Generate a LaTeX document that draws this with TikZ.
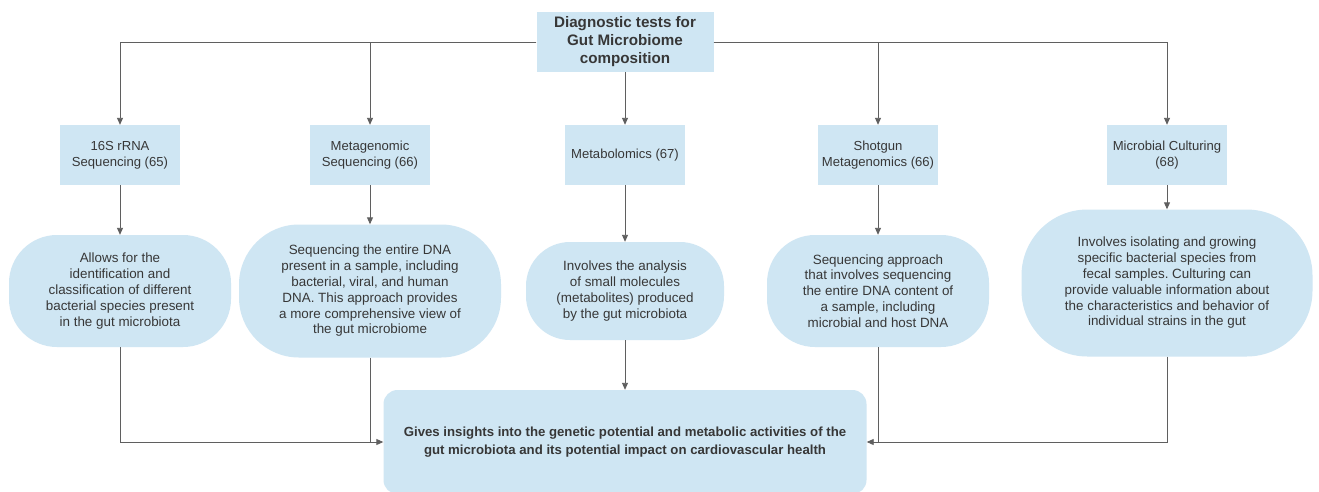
\documentclass[tikz,border=0pt]{standalone}
\usepackage{fontspec}
\setmainfont{Liberation Sans}
\usepackage{tikz}
\usetikzlibrary{arrows.meta,positioning}
\definecolor{BoxBlue}{RGB}{207,230,243}
\definecolor{TextGray}{RGB}{55,55,55}
\definecolor{LineGray}{RGB}{95,95,95}
\frenchspacing

\begin{document}
\begin{tikzpicture}[x=1pt,y=-1pt,
    testbox/.style={fill=BoxBlue, text=TextGray, align=center, minimum width=120pt, minimum height=60pt, inner sep=2pt, font=\fontsize{13.1}{16}\selectfont},
    descoval/.style={fill=BoxBlue, text=TextGray, align=center, rounded corners=48pt, inner sep=2pt, font=\fontsize{13.4}{15.8}\selectfont},
    arr/.style={-{Triangle[length=7pt,width=6pt]}, LineGray, line width=0.9pt},
    ln/.style={LineGray, line width=0.9pt}]
        \clip (0,0) rectangle (1319,491);
        \fill[white] (0,0) rectangle (1319,491);
        % title and tests
        \node[testbox, minimum width=177pt, font=\bfseries\fontsize{15.2}{18}\selectfont] (top) at (625,42) {Diagnostic tests for\\Gut Microbiome\\composition};
        \node[testbox] (t1) at (120,155) {16S rRNA\\Sequencing (65)};
        \node[testbox] (t2) at (370,155) {Metagenomic\\Sequencing (66)};
        \node[testbox] (t3) at (625,155) {Metabolomics (67)};
        \node[testbox] (t4) at (878,155) {Shotgun\\Metagenomics (66)};
        \node[testbox] (t5) at (1167,155) {Microbial Culturing\\(68)};
        % descriptions
        \node[descoval, minimum width=222pt, minimum height=112pt] (d1) at (120,291) {Allows for the\\identification and\\classification of different\\bacterial species present\\in the gut microbiota};
        \node[descoval, minimum width=262pt, minimum height=133pt, rounded corners=60pt] (d2) at (370,291) {Sequencing the entire DNA\\present in a sample, including\\bacterial, viral, and human\\DNA. This approach provides\\a more comprehensive view of\\the gut microbiome};
        \node[descoval, minimum width=198pt, minimum height=98pt, rounded corners=44pt] (d3) at (625,291) {Involves the analysis\\of small molecules\\(metabolites) produced\\by the gut microbiota};
        \node[descoval, minimum width=222pt, minimum height=112pt] (d4) at (878,291) {Sequencing approach\\that involves sequencing\\the entire DNA content of\\a sample, including\\microbial and host DNA};
        \node[descoval, minimum width=291pt, minimum height=147pt, rounded corners=66pt] (d5) at (1167,283) {Involves isolating and growing\\specific bacterial species from\\fecal samples. Culturing can\\provide valuable information about\\the characteristics and behavior of\\individual strains in the gut};
        % outcome
        \node[fill=BoxBlue, text=TextGray, align=center, rounded corners=14pt, minimum width=483pt, minimum height=104pt, font=\bfseries\fontsize{13.2}{18}\selectfont] (res) at (625,442) {Gives insights into the genetic potential and metabolic activities of the\\gut microbiota and its potential impact on cardiovascular health};
        % connectors
        \draw[arr] (top.west) -| (t1.north);
        \draw[arr] (top.west) -| (t2.north);
        \draw[arr] (top.south) -- (t3.north);
        \draw[arr] (top.east) -| (t4.north);
        \draw[arr] (top.east) -| (t5.north);
        \foreach \i in {1,...,5}
            \draw[arr] (t\i.south) -- (d\i.north);
        \draw[arr] (d1.south) |- (res.west);
        \draw[ln] (d2.south) -- (d2.south |- res.west);
        \draw[arr] (d3.south) -- (res.north);
        \draw[ln] (d4.south) -- (d4.south |- res.east);
        \draw[arr] (d5.south) |- (res.east);
      \end{tikzpicture}
\end{document}
